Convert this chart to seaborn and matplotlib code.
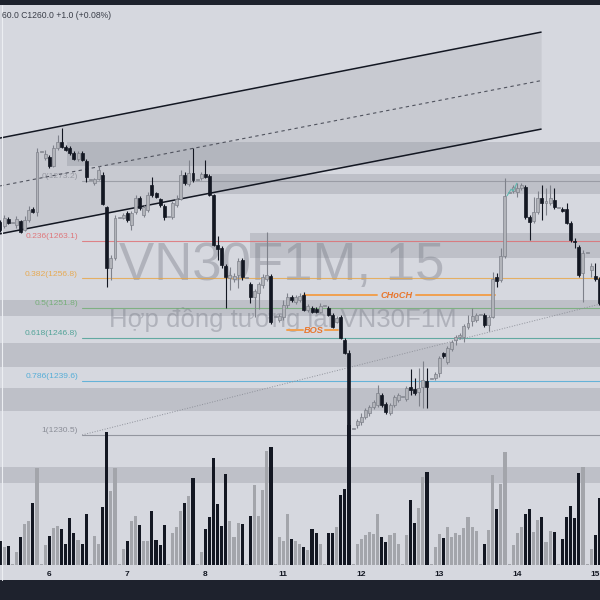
import numpy as np
import matplotlib
matplotlib.use("Agg")
import matplotlib.pyplot as plt
import matplotlib.transforms as mtransforms
import seaborn as sns

# ---------------- data ----------------
first_bar = -12  # index of the left-most bar; bar 0 = first bar of day "6"

opens = [1266.3, 1265.6, 1266.8, 1266.1, 1265.8, 1266.5, 1264.9, 1266.6, 1268.5, 1268.0,
         1278.1, 1277.1, 1277.2, 1275.7, 1278.7, 1279.7, 1278.9, 1278.7, 1277.9, 1276.9,
         1277.9, 1276.5, 1273.4, 1272.8, 1273.5, 1274.2, 1268.8, 1258.6, 1260.2, 1267.0,
         1267.0, 1267.8, 1265.8, 1268.0, 1270.3, 1267.5, 1268.3, 1272.5, 1271.2, 1270.2,
         1269.0, 1267.1, 1267.1, 1269.2, 1270.2, 1274.2, 1272.7, 1274.5, 1273.4, 1273.7,
         1274.4, 1274.0, 1270.8, 1262.4, 1261.9, 1258.9, 1256.9, 1256.7, 1257.4, 1259.9,
         1256.9, 1255.9, 1253.7, 1254.4, 1255.7, 1256.7, 1257.2, 1250.3, 1249.8, 1250.3,
         1252.3, 1253.7, 1252.8, 1253.2, 1254.0, 1251.5, 1251.8, 1251.7, 1251.2, 1252.2,
         1251.8, 1250.7, 1249.5, 1250.3, 1246.5, 1244.3, 1231.5, 1232.2, 1232.7, 1233.5,
         1234.2, 1235.2, 1235.5, 1237.2, 1235.7, 1234.2, 1235.5, 1236.4, 1236.9, 1236.5,
         1238.6, 1238.2, 1237.7, 1238.6, 1239.6, 1239.9, 1240.1, 1240.9, 1244.3, 1242.8,
         1244.9, 1246.5, 1247.0, 1247.0, 1248.6, 1249.6, 1249.8, 1250.7, 1250.7, 1249.0,
         1250.3, 1257.0, 1256.5, 1260.6, 1271.2, 1271.5, 1271.3, 1272.0, 1272.2, 1267.1,
         1266.5, 1268.0, 1270.3, 1269.5, 1269.5, 1270.0, 1268.6, 1268.5, 1268.5, 1266.1,
         1263.1, 1262.1, 1257.7, 1261.1, 1258.2, 1257.2, 1256.7]
highs = [1266.6, 1267.5, 1267.1, 1266.1, 1267.3, 1266.6, 1267.3, 1269.0, 1268.8, 1278.7,
         1278.1, 1278.4, 1277.6, 1279.2, 1280.9, 1282.1, 1279.2, 1279.0, 1278.2, 1278.2,
         1278.2, 1276.9, 1273.4, 1273.7, 1275.7, 1274.7, 1269.0, 1260.7, 1267.5, 1267.0,
         1267.8, 1268.1, 1268.1, 1270.8, 1270.7, 1269.2, 1271.3, 1273.9, 1271.3, 1270.3,
         1269.3, 1267.1, 1269.8, 1270.8, 1275.0, 1274.7, 1276.7, 1278.7, 1273.4, 1274.7,
         1276.7, 1274.4, 1271.0, 1263.9, 1262.3, 1259.2, 1258.7, 1257.7, 1260.2, 1260.2,
         1256.9, 1256.2, 1255.0, 1256.2, 1257.5, 1264.6, 1257.5, 1250.3, 1250.8, 1253.2,
         1254.4, 1254.0, 1254.0, 1254.4, 1254.5, 1252.5, 1252.2, 1252.0, 1252.7, 1252.2,
         1252.2, 1251.0, 1250.5, 1250.7, 1246.8, 1244.8, 1231.5, 1233.2, 1234.2, 1235.0,
         1235.5, 1236.4, 1238.9, 1237.5, 1236.0, 1235.9, 1237.2, 1237.5, 1236.9, 1238.7,
         1241.6, 1240.1, 1241.8, 1242.9, 1241.8, 1239.9, 1241.1, 1243.8, 1244.4, 1245.5,
         1246.5, 1247.3, 1247.6, 1249.1, 1250.7, 1251.8, 1251.0, 1250.7, 1251.0, 1250.7,
         1257.9, 1257.7, 1261.9, 1273.7, 1271.2, 1272.5, 1272.8, 1272.8, 1272.5, 1267.5,
         1270.5, 1271.5, 1272.5, 1272.0, 1272.5, 1272.0, 1268.6, 1268.8, 1269.5, 1266.5,
         1263.6, 1262.4, 1261.6, 1261.1, 1259.4, 1259.4, 1257.0]
lows = [1264.6, 1265.3, 1265.9, 1266.1, 1265.3, 1264.4, 1264.8, 1266.3, 1267.8, 1267.3,
        1278.1, 1276.7, 1275.4, 1275.5, 1278.4, 1278.7, 1278.2, 1277.6, 1276.7, 1276.5,
        1276.5, 1273.0, 1273.4, 1272.5, 1273.4, 1269.2, 1255.4, 1256.5, 1259.9, 1267.0,
        1266.8, 1266.3, 1264.9, 1267.6, 1268.3, 1267.1, 1268.0, 1270.5, 1270.3, 1268.8,
        1266.6, 1267.1, 1266.8, 1268.8, 1270.0, 1272.5, 1272.3, 1273.0, 1273.4, 1273.4,
        1273.7, 1270.7, 1262.3, 1259.9, 1258.6, 1251.8, 1254.9, 1256.2, 1255.2, 1256.5,
        1256.9, 1252.7, 1250.3, 1251.7, 1255.2, 1256.4, 1249.1, 1250.3, 1249.5, 1249.8,
        1251.8, 1252.8, 1252.5, 1252.8, 1251.3, 1251.2, 1251.0, 1251.0, 1251.0, 1252.2,
        1250.5, 1248.5, 1249.3, 1246.6, 1244.1, 1230.5, 1231.5, 1231.7, 1232.2, 1233.2,
        1233.7, 1234.9, 1235.2, 1235.2, 1234.0, 1233.9, 1235.2, 1236.0, 1236.9, 1236.2,
        1237.2, 1237.2, 1235.4, 1235.0, 1235.0, 1239.9, 1239.7, 1240.2, 1243.4, 1242.4,
        1244.6, 1245.6, 1246.6, 1246.1, 1248.3, 1248.8, 1249.5, 1250.7, 1248.6, 1248.0,
        1250.2, 1255.4, 1256.2, 1260.2, 1271.2, 1271.2, 1270.5, 1271.7, 1266.8, 1263.3,
        1266.1, 1267.6, 1266.6, 1267.5, 1269.2, 1268.5, 1268.6, 1268.0, 1265.9, 1262.9,
        1261.9, 1257.0, 1252.8, 1261.1, 1257.0, 1256.4, 1252.4]
closes = [1264.9, 1267.0, 1266.1, 1266.1, 1266.8, 1264.6, 1266.6, 1268.3, 1268.0, 1278.1,
          1278.1, 1277.7, 1275.7, 1278.7, 1279.7, 1278.9, 1278.4, 1277.9, 1276.9, 1277.9,
          1276.7, 1273.9, 1273.4, 1273.5, 1275.0, 1269.3, 1258.6, 1260.2, 1267.0, 1267.0,
          1267.5, 1266.6, 1267.8, 1270.3, 1268.6, 1268.8, 1270.8, 1270.8, 1270.5, 1269.2,
          1267.1, 1267.1, 1269.5, 1270.2, 1274.2, 1272.8, 1274.5, 1273.4, 1273.4, 1274.4,
          1273.9, 1270.8, 1262.4, 1261.7, 1259.1, 1257.0, 1257.4, 1257.2, 1259.7, 1257.0,
          1256.9, 1253.7, 1254.7, 1255.9, 1257.0, 1257.4, 1249.5, 1250.3, 1250.5, 1252.3,
          1253.7, 1253.2, 1253.7, 1253.8, 1251.5, 1252.2, 1251.2, 1251.2, 1252.2, 1252.2,
          1250.7, 1248.6, 1250.2, 1246.8, 1244.3, 1232.2, 1231.5, 1232.8, 1233.5, 1234.7,
          1235.2, 1236.0, 1237.5, 1235.5, 1234.4, 1235.5, 1236.9, 1237.2, 1236.9, 1238.4,
          1238.1, 1237.5, 1238.4, 1239.7, 1238.6, 1239.9, 1240.7, 1243.4, 1243.8, 1245.1,
          1246.1, 1247.0, 1247.3, 1248.8, 1249.3, 1250.5, 1250.7, 1250.7, 1249.0, 1250.3,
          1256.7, 1256.4, 1260.6, 1270.7, 1271.2, 1272.2, 1272.0, 1272.5, 1267.1, 1266.3,
          1268.0, 1270.3, 1269.5, 1269.8, 1270.3, 1268.8, 1268.6, 1268.1, 1266.1, 1263.3,
          1262.9, 1257.4, 1261.1, 1261.1, 1258.9, 1256.7, 1252.7]
volumes = [2400, 1800, 1900, 100, 1300, 2800, 4100, 4400, 6200, 9700,
           100, 2000, 2900, 3700, 3900, 3600, 2100, 4700, 3200, 2500,
           2100, 5100, 100, 2900, 2100, 5800, 13300, 7400, 9700, 100,
           1600, 2400, 4400, 4900, 4000, 2400, 2400, 5400, 2500, 2000,
           4000, 100, 3200, 3800, 5400, 6200, 6900, 8700, 100, 1300,
           3600, 4800, 10700, 6100, 3900, 9100, 4400, 2800, 4200, 4100,
           100, 4900, 8000, 4900, 7500, 11400, 11800, 100, 2800, 2400,
           5100, 2600, 2400, 2100, 1800, 1500, 3600, 3200, 2100, 100,
           3200, 3200, 3800, 7000, 7600, 14000, 100, 2100, 2600, 3000,
           3300, 3100, 5100, 2800, 2300, 3000, 3200, 2100, 100, 3000,
           6500, 4200, 5700, 8800, 9300, 100, 1800, 3100, 2700, 3800,
           2800, 3200, 3000, 3700, 4800, 3800, 3400, 100, 2100, 3500,
           9000, 5600, 8100, 11300, 100, 2000, 3200, 3800, 5100, 5600,
           3300, 4500, 4800, 2300, 3400, 3300, 100, 2600, 4800, 5900,
           4700, 9200, 9800, 100, 1600, 3000, 6700]

day_labels = ["6", "7", "8", "11", "12", "13", "14", "15"]
day_first_bar = [0, 19, 38, 57, 76, 95, 114, 133]

fib_ratios = ["0", "0.236", "0.382", "0.5", "0.618", "0.786", "1"]
fib_prices = [1273.2, 1263.1, 1256.8, 1251.8, 1246.8, 1239.6, 1230.5]
fib_colors = ["#8e919a", "#e0666a", "#e9a23b", "#6aab6c", "#3c9a8c", "#3fa6d6", "#7d808a"]

zone_tops = [1279.7, 1274.4, 1264.4, 1253.2, 1245.9, 1238.4, 1225.1]
zone_bottoms = [1275.7, 1271.0, 1260.2, 1250.5, 1241.9, 1234.5, 1222.4]
zone_starts = [4.3, 39.5, 49.0, -13.0, -13.0, -13.0, -13.0]

channel_x = [-12.0, 119.8]
channel_upper = [1280.4, 1298.2]
channel_lower = [1264.3, 1281.9]

choch_level, choch_start, choch_end = 1254.0, 62.0, 108.5
bos_level, bos_start, bos_end = 1248.1, 57.9, 70.3

trend_x = [8.0, 134.2]
trend_y = [1230.5, 1252.5]

# ---------------- style ----------------
sns.set_theme(style="white")
plt.rcParams['font.family'] = ['Liberation Sans', 'DejaVu Sans']

BG = "#d6d8df"
DARK = "#131722"
UPC = "#b2b4ba"
UPE = "#7e818a"

fig = plt.figure(figsize=(6, 6), dpi=100, facecolor="#1e222d")
ax = fig.add_axes([0, 20 / 600, 1, 575 / 600])
ax.set_facecolor(BG)
XL = (-12.01, 134.15)
ax.set_xlim(*XL)
ax.set_ylim(1206.12, 1302.76)
ax.set_xticks([])
ax.set_yticks([])
for s in ax.spines.values():
    s.set_visible(False)

# watermark
wm = dict(color="#787b86", alpha=0.4, ha="center", va="baseline", zorder=1,
          transform=ax.transAxes, family=["Liberation Sans", "DejaVu Sans"])
ax.text(0.47, (580 - 280) / 575, "VN30F1M, 15", fontsize=38, **wm)
ax.text(0.472, (580 - 327) / 575, "Hợp đồng tương lai VN30F1M", fontsize=18.5, **wm)

# channel
ax.fill_between(channel_x, channel_lower, channel_upper, color="#787b86", alpha=0.15,
                lw=0, zorder=2)
sns.lineplot(x=channel_x, y=channel_upper, ax=ax, color=DARK, lw=1.1, zorder=4)
sns.lineplot(x=channel_x, y=channel_lower, ax=ax, color=DARK, lw=1.1, zorder=4)
mid = [(a + b) / 2 for a, b in zip(channel_lower, channel_upper)]
ax.plot(channel_x, mid, color="#50535e", lw=0.8, ls=(0, (3, 3)), zorder=4)

# zones
for t, b, s in zip(zone_tops, zone_bottoms, zone_starts):
    ax.fill_between([s, XL[1] + 2], b, t, color="#787b86", alpha=0.25, lw=0, zorder=2.5)

# fibonacci
lab_x = 7.0
for r, p, col in zip(fib_ratios, fib_prices, fib_colors):
    ax.plot([8.0, XL[1] + 2], [p, p], color=col, lw=0.8, alpha=0.75, zorder=3)
    ax.annotate(f"{r}({p:.1f})", xy=(lab_x, p), xytext=(0, 0.6), textcoords="offset points",
                ha="right", va="bottom", fontsize=6.1, color=col, alpha=0.85, zorder=3)
sns.lineplot(x=trend_x, y=trend_y, ax=ax, color="#8e919a", lw=0.7, ls=":", zorder=3)

# CHoCH / BOS
OR_L, OR_T = "#f0a050", "#e8772e"
gap_c = (79.8, 89.3)
ax.plot([choch_start, gap_c[0]], [choch_level] * 2, color=OR_L, lw=1.4, zorder=4)
ax.plot([gap_c[1], choch_end], [choch_level] * 2, color=OR_L, lw=1.4, zorder=4)
ax.text(sum(gap_c) / 2, choch_level, "CHoCH", ha="center", va="center", fontsize=6.6,
        fontweight="bold", style="italic", color=OR_T, zorder=4)
gap_b = (61.8, 67.2)
ax.plot([bos_start, gap_b[0]], [bos_level] * 2, color=OR_L, lw=1.4, zorder=4)
ax.plot([gap_b[1], bos_end], [bos_level] * 2, color=OR_L, lw=1.4, zorder=4)
ax.text(sum(gap_b) / 2, bos_level, "BOS", ha="center", va="center", fontsize=6.6,
        fontweight="bold", style="italic", color=OR_T, zorder=4)

# small teal drawing
ax.plot([111.5, 112.5, 113.0, 113.9], [1270.7, 1271.8, 1271.5, 1272.8], color="#5fb8b0",
        lw=0.8, zorder=7)

# candles
o = np.array(opens); h = np.array(highs); l = np.array(lows); c = np.array(closes)
x = np.arange(first_bar, first_bar + len(o))
up = c >= o
bb = np.minimum(o, c)
bh = np.maximum(np.abs(c - o), 0.15)
ax.vlines(x[up], l[up], h[up], color=UPE, lw=0.8, zorder=5)
ax.vlines(x[~up], l[~up], h[~up], color=DARK, lw=0.8, zorder=5)
ax.bar(x[up], bh[up], bottom=bb[up], width=0.72, color=UPC, edgecolor=UPE, linewidth=0.5, zorder=6)
ax.bar(x[~up], bh[~up], bottom=bb[~up], width=0.72, color=DARK, edgecolor=DARK, linewidth=0.5,
       zorder=6)

# volume
axv = ax.twinx()
axv.set_xlim(*XL)
axv.set_ylim(-1500, 56000)
axv.set_yticks([])
for s in axv.spines.values():
    s.set_visible(False)
v = np.array(volumes)
axv.bar(x, v, width=0.75, color=np.where(up, "#a3a5ab", DARK), linewidth=0)

# day labels
tr = mtransforms.blended_transform_factory(ax.transData, ax.transAxes)
for lab, b in zip(day_labels, day_first_bar):
    axv.text(b, 6 / 575, lab, transform=tr, ha="center", va="center", fontsize=6,
             color=DARK, fontweight="bold")

# header text and left border line
fig.text(2 / 600, 1 - 15 / 600, "60.0 C1260.0 +1.0 (+0.08%)", fontsize=6.2,
         color="#3a3e48", va="center", ha="left")
fig.add_artist(plt.Line2D([1.5 / 600, 1.5 / 600], [20 / 600, 595 / 600], color="#eceef2",
                          lw=0.8, transform=fig.transFigure))

fig.savefig("out.png", dpi=100, facecolor=fig.get_facecolor())
